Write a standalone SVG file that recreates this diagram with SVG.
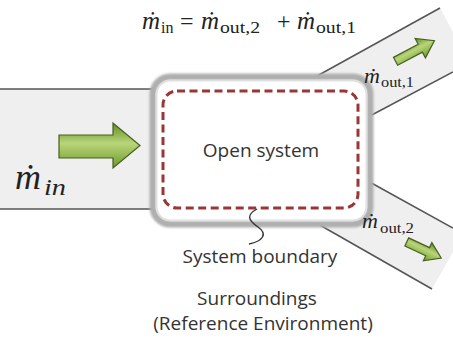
<svg xmlns="http://www.w3.org/2000/svg" width="453" height="341" viewBox="0 0 453 341">
<defs>
<style>
.pipe{fill:#efefef;stroke:none}
.pl{stroke:#555;stroke-width:1.5;fill:none}
.lbl{font-family:"Open Sans","DejaVu Sans",sans-serif;font-size:19px;fill:#333}
.m{font-family:"Liberation Serif","DejaVu Serif",serif;font-style:italic;fill:#222}
.s{font-family:"Liberation Serif","DejaVu Serif",serif;fill:#222}
.arr{fill:url(#g);stroke:#46601c;stroke-width:1.2}
</style>
<linearGradient id="g" x1="0" y1="0" x2="0" y2="1">
<stop offset="0" stop-color="#5f8a22"/>
<stop offset="0.45" stop-color="#b9d57a"/>
<stop offset="1" stop-color="#6e9a2c"/>
</linearGradient>
<filter id="sh" x="-10%" y="-10%" width="120%" height="120%"><feGaussianBlur stdDeviation="1.2"/></filter>
</defs>
<rect width="453" height="341" fill="#fff"/>
<g id="connectors">
<g id="pipe-in">
<rect class="pipe" x="0" y="89" width="160" height="120"/>
<line class="pl" x1="0" y1="89" x2="156" y2="89"/>
<line class="pl" x1="0" y1="209" x2="156" y2="209"/>
</g>
<g id="pipe-out1">
<polygon class="pipe" points="300,100 317,76 440,8 453,32 453,72 368,117 340,140"/>
<line class="pl" x1="317" y1="76" x2="440" y2="8"/>
<line class="pl" x1="368" y1="117" x2="453" y2="72"/>
</g>
<g id="pipe-out2">
<polygon class="pipe" points="340,170 366,180 453,228 453,252 432,289 318,224 300,200"/>
<line class="pl" x1="366" y1="180" x2="453" y2="228"/>
<line class="pl" x1="318" y1="224" x2="432" y2="289"/>
</g>
</g>
<g id="open-system">
<rect x="153" y="77" width="217" height="147" rx="17" fill="#fff" stroke="#afafaf" stroke-width="7" filter="url(#sh)"/>
<rect x="156.5" y="80.5" width="210" height="140" rx="14" fill="#fff" stroke="#e0e0e0" stroke-width="2"/>
<rect x="163" y="91" width="195" height="117" rx="14" fill="none" stroke="#9b3636" stroke-width="3" stroke-dasharray="8 4.5"/>
<text class="lbl" x="261" y="157" text-anchor="middle">Open system</text>
</g>
<g id="boundary-label">
<path d="M257,209 C246,215 248,220 258,227 C268,234 263,241 249,244" fill="none" stroke="#333" stroke-width="1.4"/>
<text class="lbl" x="260" y="263" text-anchor="middle">System boundary</text>
</g>
<g id="surroundings">
<text class="lbl" x="257" y="305" text-anchor="middle">Surroundings</text>
<text class="lbl" x="263" y="330" text-anchor="middle">(Reference Environment)</text>
</g>
<g id="arrow-in">
<polygon class="arr" points="59,135 113,135 113,123 140,145.5 113,168 113,158 59,158"/>
<text class="m" x="15" y="189" font-size="36">m&#x307;</text>
<text class="m" x="44" y="195" font-size="23" textLength="22" lengthAdjust="spacingAndGlyphs">in</text>
</g>
<g id="arrow-out1">
<polygon class="arr" transform="translate(415,51) rotate(-28)" points="-22,-4.5 6,-4.5 6,-11 22,0 6,11 6,4.5 -22,4.5"/>
<text class="m" x="364" y="83" font-size="22">m&#x307;</text>
<text class="s" x="381" y="87" font-size="14" textLength="33" lengthAdjust="spacingAndGlyphs">out,1</text>
</g>
<g id="arrow-out2">
<polygon class="arr" transform="translate(424,250) rotate(25)" points="-19,-4.5 4,-4.5 4,-10 19,0 4,10 4,4.5 -19,4.5"/>
<text class="m" x="362" y="228" font-size="22">m&#x307;</text>
<text class="s" x="380" y="233" font-size="14" textLength="34" lengthAdjust="spacingAndGlyphs">out,2</text>
</g>
<g id="equation">
<text class="m" x="142" y="29" font-size="25">m&#x307;</text>
<text class="s" x="161" y="33" font-size="16">in</text>
<text class="s" x="180" y="29" font-size="24">=</text>
<text class="m" x="201" y="29" font-size="25">m&#x307;</text>
<text class="s" x="220" y="33" font-size="16" textLength="40" lengthAdjust="spacingAndGlyphs">out,2</text>
<text class="s" x="277" y="29" font-size="24">+</text>
<text class="m" x="297" y="29" font-size="25">m&#x307;</text>
<text class="s" x="316" y="33" font-size="16" textLength="40" lengthAdjust="spacingAndGlyphs">out,1</text>
</g>
</svg>
